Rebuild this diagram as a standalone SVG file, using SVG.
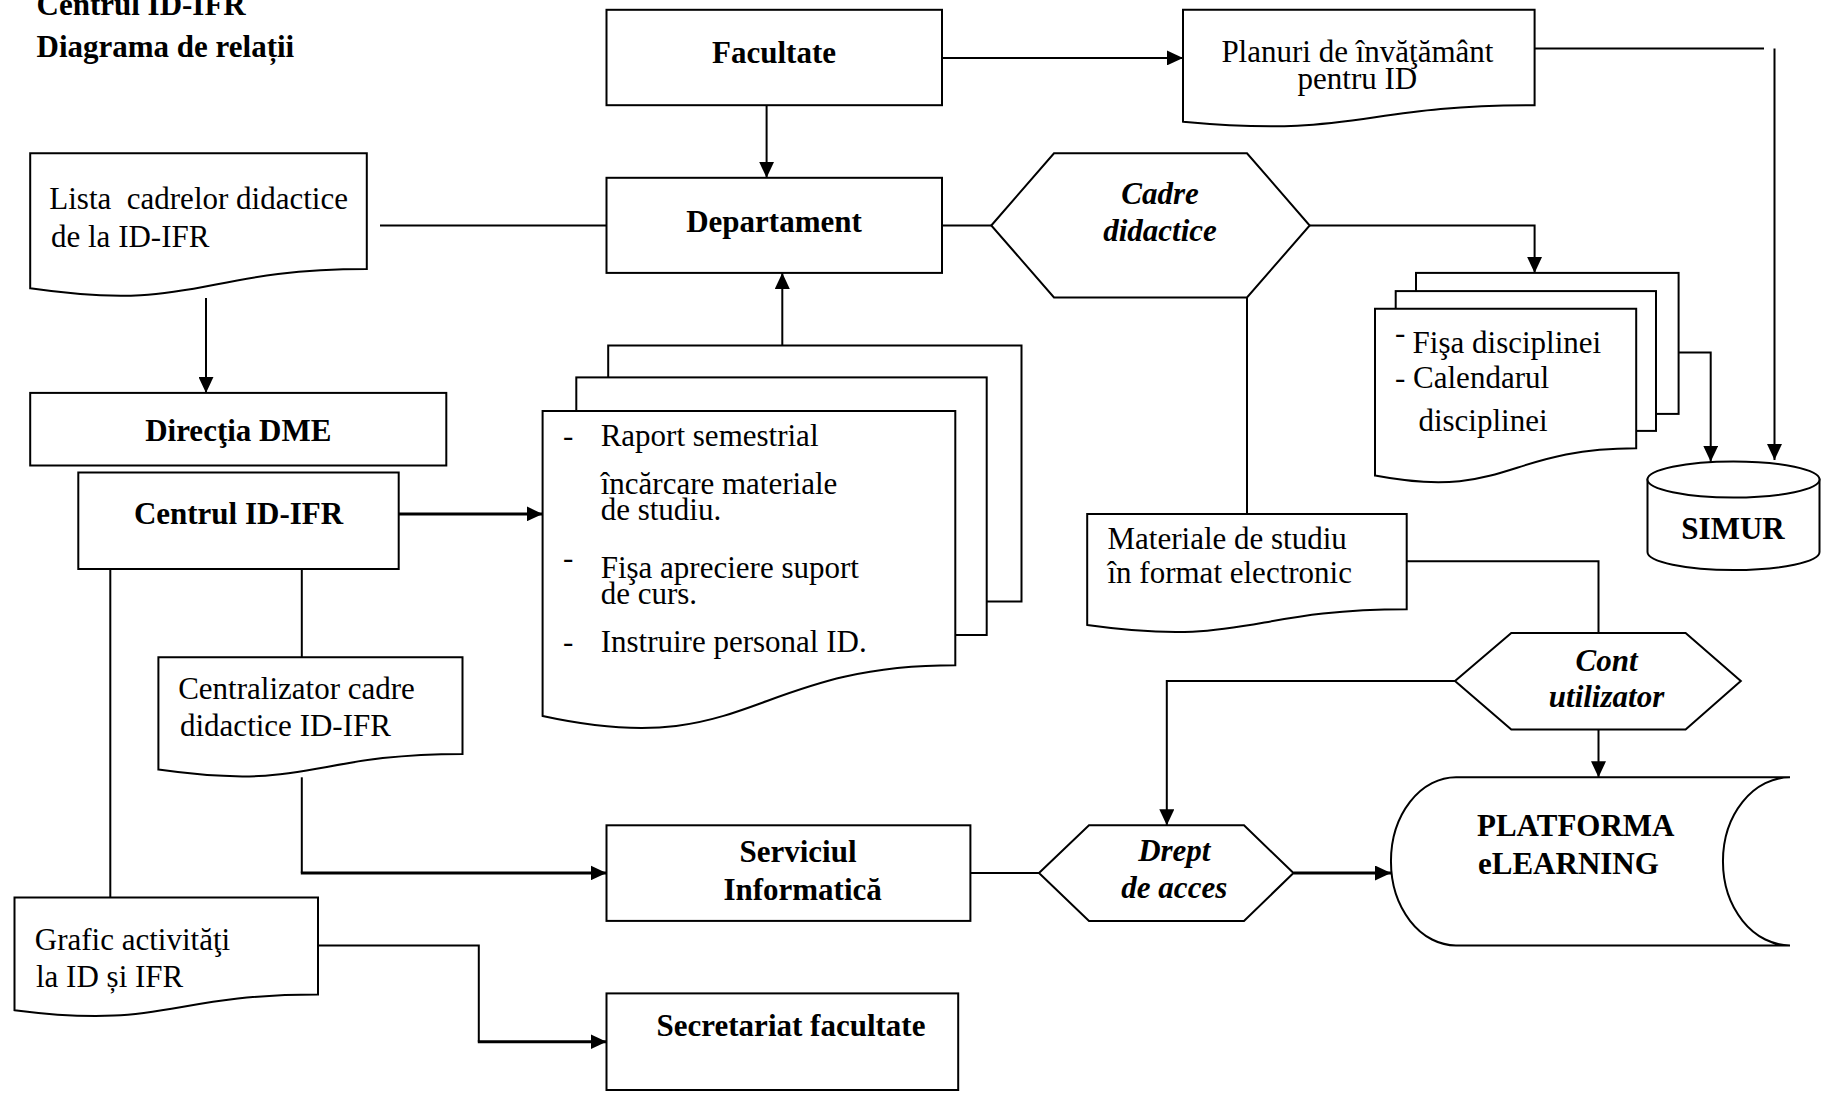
<svg xmlns="http://www.w3.org/2000/svg" width="1821" height="1097" viewBox="0 0 1821 1097">
<style>
.s{fill:#fff;stroke:#000;stroke-width:2}
.c{fill:none;stroke:#000;stroke-width:2}
.cb{fill:none;stroke:#000;stroke-width:3}
text{font-family:"Liberation Serif","Times New Roman",serif;font-size:31px;fill:#000}
.b{font-weight:bold}
.bi{font-weight:bold;font-style:italic}
.m{text-anchor:middle}
</style>
<defs>
<marker id="ah" markerUnits="userSpaceOnUse" markerWidth="16" markerHeight="15" refX="16" refY="7.5" orient="auto">
<path d="M0,0 L16,7.5 L0,15 z" fill="#000"/>
</marker>
</defs>
<rect width="1821" height="1097" fill="#fff"/>

<g id="title">
<text class="b" x="36.5" y="15">Centrul ID-IFR</text>
<text class="b" x="36.5" y="56.7">Diagrama de relații</text>
</g>

<g id="connectors">
<path class="c" d="M766.6,105.2 V177.8" marker-end="url(#ah)"/>
<path class="c" d="M942,57.9 H1183" marker-end="url(#ah)"/>
<path class="c" d="M1534.6,48.4 H1764"/>
<path class="c" d="M1774.5,48.4 V460" marker-end="url(#ah)"/>
<path class="c" d="M380,225.5 H606.5"/>
<path class="c" d="M206,298 V392.9" marker-end="url(#ah)"/>
<path class="cb" d="M398.7,513.9 H542.6" marker-end="url(#ah)"/>
<path class="c" d="M782.3,345.5 V272.9" marker-end="url(#ah)"/>
<path class="c" d="M942,225.5 H991.3"/>
<path class="c" d="M1309.7,225.5 H1534.6 V272.9" marker-end="url(#ah)"/>
<path class="c" d="M1678.6,352.5 H1710.7 V461.7" marker-end="url(#ah)"/>
<path class="c" d="M1247,297.4 V513.9"/>
<path class="c" d="M1406.7,561.3 H1598.5 V633"/>
<path class="c" d="M1455,681 H1166.8 V825.3" marker-end="url(#ah)"/>
<path class="c" d="M1598.5,729.4 V777.3" marker-end="url(#ah)"/>
<path class="c" d="M959.4,873 H1039"/>
<path class="cb" d="M1293.5,873 H1391" marker-end="url(#ah)"/>
<path class="c" d="M110.3,562 V897.4"/>
<path class="c" d="M301.8,562 V657.2"/>
<path class="c" d="M301.8,777.3 V872.9"/>
<path class="cb" d="M300.8,872.9 H606.5" marker-end="url(#ah)"/>
<path class="c" d="M318,945.4 H478.8 V1041.7"/>
<path class="cb" d="M477.8,1041.7 H606.5" marker-end="url(#ah)"/>
</g>

<g id="facultate">
<rect class="s" x="606.5" y="9.8" width="335.5" height="95.4"/>
<text class="b m" x="774" y="63">Facultate</text>
</g>

<g id="planuri">
<path class="s" d="M1183,9.8 H1534.6 V105.2 C1358.8,105.2 1358.8,138.2 1183,121.7 Z"/>
<text class="m" x="1357.4" y="62.4">Planuri de învăţământ</text>
<text class="m" x="1357.4" y="89.4">pentru ID</text>
</g>

<g id="lista">
<path class="s" d="M30.2,153.3 H366.8 V269 C198.5,269 198.5,312.8 30.2,288.3 Z"/>
<text x="49.3" y="209.4" style="white-space:pre">Lista  cadrelor didactice</text>
<text x="51" y="247.3">de la ID-IFR</text>
</g>

<g id="departament">
<rect class="s" x="606.5" y="177.8" width="335.5" height="95.1"/>
<text class="b m" x="774" y="231.5">Departament</text>
</g>

<g id="cadre">
<polygon class="s" points="991.3,225.5 1054,153.3 1247,153.3 1309.7,225.5 1247,297.4 1054,297.4"/>
<text class="bi m" x="1160" y="204.1">Cadre</text>
<text class="bi m" x="1160" y="241.3">didactice</text>
</g>

<g id="fisa">
<rect class="s" x="1416" y="272.9" width="262.6" height="141"/>
<rect class="s" x="1395.7" y="291.1" width="260.3" height="139.8"/>
<path class="s" d="M1375,308.7 H1636.2 V448.3 C1505.6,448.3 1505.6,500.5 1375,475.6 Z"/>
<text x="1395" y="343">-</text>
<text x="1412.6" y="352.5">Fişa disciplinei</text>
<text x="1395" y="387.6">- Calendarul</text>
<text x="1418.4" y="431.4">disciplinei</text>
</g>

<g id="simur">
<path class="s" d="M1647.5,479.5 V552 A86,18 0 0 0 1819.5,552 V479.5 Z"/>
<ellipse class="s" cx="1733.5" cy="479.5" rx="86" ry="18"/>
<text class="b m" x="1733" y="539.3">SIMUR</text>
</g>

<g id="directia">
<rect class="s" x="30.2" y="392.9" width="416.1" height="72.6"/>
<text class="b m" x="238.3" y="441">Direcţia DME</text>
</g>

<g id="centrul">
<rect class="s" x="78.3" y="472.5" width="320.4" height="96.5"/>
<text class="b m" x="238.5" y="524.4">Centrul ID-IFR</text>
</g>

<g id="raport">
<rect class="s" x="608.2" y="345.5" width="413.3" height="256"/>
<rect class="s" x="576.3" y="377.4" width="410.4" height="257.6"/>
<path class="s" d="M542.6,411 H955.3 V665.3 C749,665.3 749,761 542.6,716 Z"/>
<text x="563" y="446.2">-</text>
<text x="600.7" y="446.2">Raport semestrial</text>
<text x="600.7" y="493.9">încărcare materiale</text>
<text x="600.7" y="519.8">de studiu.</text>
<text x="563" y="568">-</text>
<text x="600.7" y="577.8">Fişa apreciere suport</text>
<text x="600.7" y="604">de curs.</text>
<text x="563" y="652.3">-</text>
<text x="600.7" y="652.3">Instruire personal ID.</text>
</g>

<g id="materiale">
<path class="s" d="M1087.2,513.9 H1406.7 V609.3 C1247,609.3 1247,647.4 1087.2,625 Z"/>
<text x="1107.5" y="549">Materiale de studiu</text>
<text x="1107.5" y="583">în format electronic</text>
</g>

<g id="cont">
<polygon class="s" points="1455,681 1511.3,633 1685.6,633 1740.8,681 1685.6,729.4 1511.3,729.4"/>
<text class="bi m" x="1606.5" y="670.5">Cont</text>
<text class="bi m" x="1606.5" y="707.3">utilizator</text>
</g>

<g id="centralizator">
<path class="s" d="M158.4,657.2 H462.5 V753.9 C310.5,753.9 310.5,791.4 158.4,769.6 Z"/>
<text x="178.2" y="698.6">Centralizator cadre</text>
<text x="180" y="736.4">didactice ID-IFR</text>
</g>

<g id="serviciul">
<rect class="s" x="606.5" y="825.3" width="363.9" height="95.6"/>
<text class="b m" x="798" y="862.4">Serviciul</text>
<text class="b m" x="802.6" y="899.9">Informatică</text>
</g>

<g id="drept">
<polygon class="s" points="1039,873 1089,825.3 1244,825.3 1293.5,873 1244,920.9 1089,920.9"/>
<text class="bi m" x="1174.3" y="861.4">Drept</text>
<text class="bi m" x="1174.3" y="898">de acces</text>
</g>

<g id="platforma">
<path class="s" d="M1456,777.3 H1790 A67,84 0 0 0 1790,945.4 H1456 A65,84 0 0 1 1456,777.3 Z"/>
<text class="b" x="1477" y="835.8">PLATFORMA</text>
<text class="b" x="1478" y="873.6">eLEARNING</text>
</g>

<g id="grafic">
<path class="s" d="M14.5,897.4 H318 V994.4 C166.3,994.4 166.3,1029.7 14.5,1010.2 Z"/>
<text x="34.8" y="950">Grafic activităţi</text>
<text x="36" y="987.4">la ID și IFR</text>
</g>

<g id="secretariat">
<rect class="s" x="606.5" y="993.4" width="351.7" height="96.6"/>
<text class="b m" x="791" y="1036.4">Secretariat facultate</text>
</g>
</svg>
